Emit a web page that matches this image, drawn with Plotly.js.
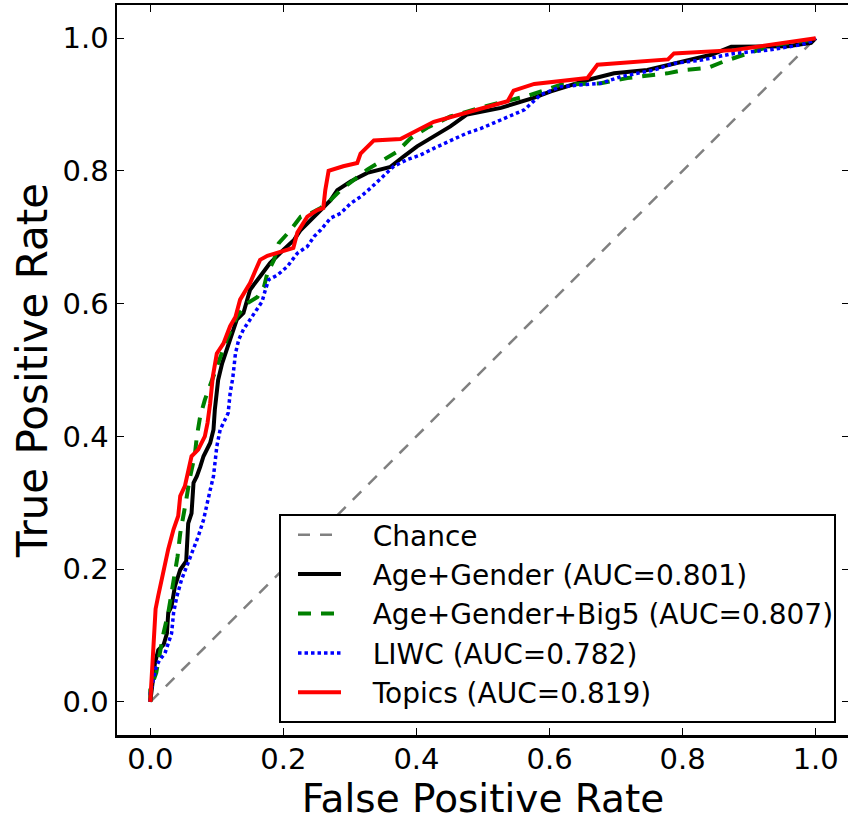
<!DOCTYPE html>
<html>
<head>
<meta charset="utf-8">
<script src="https://cdn.plot.ly/plotly-3.0.1.min.js"></script>
<style>
html, body { margin: 0; padding: 0; overflow: hidden; background: #fff; }
#chart { width: 849px; height: 830px; }
</style>
</head>
<body>
<div id="chart"></div>
<script>
// Chance diagonal
const chanceX = [0, 1];
const chanceY = [0, 1];

// Age+Gender (AUC=0.801)
const ageGenderX = [0,0.004,0.007,0.012,0.02,0.025,0.027,0.032,0.037,0.045,0.054,0.057,0.062,0.065,0.07,0.075,0.08,0.09,0.095,0.097,0.102,0.108,0.12,0.13,0.14,0.15,0.165,0.18,0.2,0.216,0.226,0.241,0.256,0.271,0.281,0.301,0.326,0.361,0.381,0.401,0.426,0.451,0.476,0.527,0.576,0.602,0.657,0.697,0.747,0.807,0.843,0.873,0.928,0.958,0.993,1];
const ageGenderY = [0,0.04,0.058,0.078,0.086,0.103,0.134,0.144,0.174,0.199,0.212,0.269,0.284,0.33,0.34,0.354,0.37,0.39,0.41,0.44,0.485,0.51,0.545,0.576,0.586,0.621,0.641,0.661,0.681,0.696,0.711,0.726,0.741,0.756,0.771,0.784,0.797,0.806,0.822,0.837,0.852,0.867,0.885,0.895,0.91,0.92,0.937,0.947,0.952,0.967,0.975,0.987,0.987,0.988,0.993,1];

// Age+Gender+Big5 (AUC=0.807)
const big5X = [0,0,0.009,0.014,0.02,0.027,0.032,0.035,0.041,0.045,0.05,0.054,0.059,0.067,0.07,0.075,0.082,0.09,0.1,0.108,0.115,0.13,0.145,0.161,0.171,0.176,0.186,0.193,0.211,0.226,0.241,0.256,0.271,0.286,0.306,0.326,0.351,0.371,0.391,0.416,0.451,0.502,0.567,0.617,0.677,0.717,0.777,0.802,0.837,0.862,0.892,0.938,0.993,1];
const big5Y = [0,0.018,0.044,0.073,0.104,0.134,0.164,0.189,0.219,0.254,0.279,0.304,0.335,0.372,0.4,0.43,0.455,0.478,0.505,0.53,0.546,0.58,0.6,0.61,0.626,0.646,0.666,0.691,0.711,0.731,0.736,0.744,0.756,0.771,0.787,0.802,0.817,0.829,0.849,0.865,0.882,0.897,0.913,0.93,0.932,0.94,0.947,0.952,0.955,0.965,0.975,0.99,0.997,1];

// LIWC (AUC=0.782)
const liwcX = [0,0,0.009,0.014,0.022,0.027,0.032,0.035,0.04,0.047,0.057,0.065,0.072,0.08,0.085,0.09,0.095,0.1,0.105,0.112,0.117,0.12,0.124,0.128,0.133,0.14,0.15,0.161,0.168,0.173,0.178,0.191,0.206,0.221,0.236,0.246,0.256,0.271,0.286,0.301,0.316,0.331,0.351,0.366,0.386,0.406,0.426,0.456,0.476,0.497,0.527,0.562,0.587,0.617,0.677,0.707,0.757,0.787,0.828,0.877,0.928,0.978,0.993,1];
const liwcY = [0,0.013,0.053,0.063,0.073,0.088,0.103,0.134,0.159,0.184,0.209,0.229,0.249,0.274,0.299,0.319,0.34,0.385,0.41,0.425,0.435,0.465,0.488,0.525,0.546,0.561,0.576,0.591,0.603,0.621,0.636,0.643,0.656,0.676,0.686,0.701,0.711,0.729,0.736,0.751,0.761,0.774,0.792,0.807,0.817,0.824,0.834,0.847,0.857,0.864,0.877,0.892,0.915,0.927,0.932,0.942,0.952,0.962,0.967,0.977,0.982,0.99,0.995,1];

// Topics (AUC=0.819)
const topicsX = [0,0.002,0.005,0.008,0.012,0.017,0.022,0.027,0.035,0.042,0.045,0.052,0.062,0.072,0.082,0.086,0.09,0.094,0.1,0.11,0.12,0.128,0.135,0.15,0.158,0.165,0.176,0.2,0.215,0.221,0.236,0.251,0.26,0.263,0.268,0.29,0.311,0.316,0.336,0.376,0.391,0.426,0.476,0.52,0.537,0.546,0.577,0.657,0.672,0.778,0.787,0.877,0.952,1];
const topicsY = [0,0.04,0.075,0.14,0.16,0.185,0.205,0.23,0.26,0.28,0.31,0.325,0.37,0.38,0.4,0.42,0.45,0.49,0.525,0.54,0.566,0.58,0.606,0.631,0.65,0.666,0.672,0.679,0.684,0.707,0.731,0.741,0.744,0.771,0.8,0.807,0.812,0.826,0.846,0.848,0.856,0.874,0.888,0.9,0.905,0.921,0.931,0.94,0.96,0.968,0.977,0.982,0.993,1];

const seriesNames = [
  'Chance',
  'Age+Gender (AUC=0.801)',
  'Age+Gender+Big5 (AUC=0.807)',
  'LIWC (AUC=0.782)',
  'Topics (AUC=0.819)'
];

const tickVals = [0, 0.2, 0.4, 0.6, 0.8, 1.0];
const tickText = ['0.0', '0.2', '0.4', '0.6', '0.8', '1.0'];

// gap between legend line sample and its label (non-breaking spaces)
const pad = '\u00a0\u00a0\u00a0';

const traces = [
  { x: chanceX, y: chanceY, name: pad + seriesNames[0], mode: 'lines',
    line: { color: '#808080', width: 2.5, dash: '12px,10px' } },
  { x: ageGenderX, y: ageGenderY, name: pad + seriesNames[1], mode: 'lines',
    line: { color: '#000000', width: 4 } },
  { x: big5X, y: big5Y, name: pad + seriesNames[2], mode: 'lines',
    line: { color: '#008000', width: 4, dash: '13px,10px' } },
  { x: liwcX, y: liwcY, name: pad + seriesNames[3], mode: 'lines',
    line: { color: '#0000ff', width: 3.5, dash: '3.5px,3px' } },
  { x: topicsX, y: topicsY, name: pad + seriesNames[4], mode: 'lines',
    line: { color: '#ff0000', width: 4 } }
];

const font = 'DejaVu Sans, sans-serif';
const axisCommon = {
  range: [-0.05, 1.05],
  tickvals: tickVals,
  ticktext: tickText,
  ticks: 'inside',
  ticklen: 7,
  tickwidth: 1,
  tickcolor: '#000',
  showline: true,
  linewidth: 2.5,
  linecolor: '#000',
  mirror: 'ticks',
  showgrid: false,
  zeroline: false,
  tickfont: { family: font, size: 29, color: '#000' },
  fixedrange: true
};

// plot area: left 117, top 5, bottom 735 (page is clipped to 816 px tall)
const layout = {
  width: 849,
  height: 830,
  margin: { l: 117, r: 0, t: 5, b: 95 },
  paper_bgcolor: '#fff',
  plot_bgcolor: '#fff',
  showlegend: true,
  xaxis: Object.assign({}, axisCommon, {
    ticklabelstandoff: -3,
    title: { text: 'False Positive Rate', font: { family: font, size: 39, color: '#000' }, standoff: 9 }
  }),
  yaxis: Object.assign({}, axisCommon, {
    title: { text: 'True Positive Rate', font: { family: font, size: 42, color: '#000' }, standoff: 2 }
  }),
  legend: {
    x: (293 - 117) / 732, y: (735 - 510) / 730, xanchor: 'left', yanchor: 'top',
    bgcolor: 'rgba(0,0,0,0)', borderwidth: 0,
    font: { family: font, size: 28, color: '#000' },
    itemwidth: 43,
    tracegroupgap: 0
  },
  shapes: [{
    type: 'rect', xref: 'paper', yref: 'paper', layer: 'above',
    x0: (280 - 117) / 732, x1: (835 - 117) / 732,
    y0: (735 - 722) / 730, y1: (735 - 515) / 730,
    line: { color: '#000', width: 2 }, fillcolor: '#fff'
  }]
};

Plotly.newPlot('chart', traces, layout, { displayModeBar: false, staticPlot: true });
</script>
</body>
</html>
